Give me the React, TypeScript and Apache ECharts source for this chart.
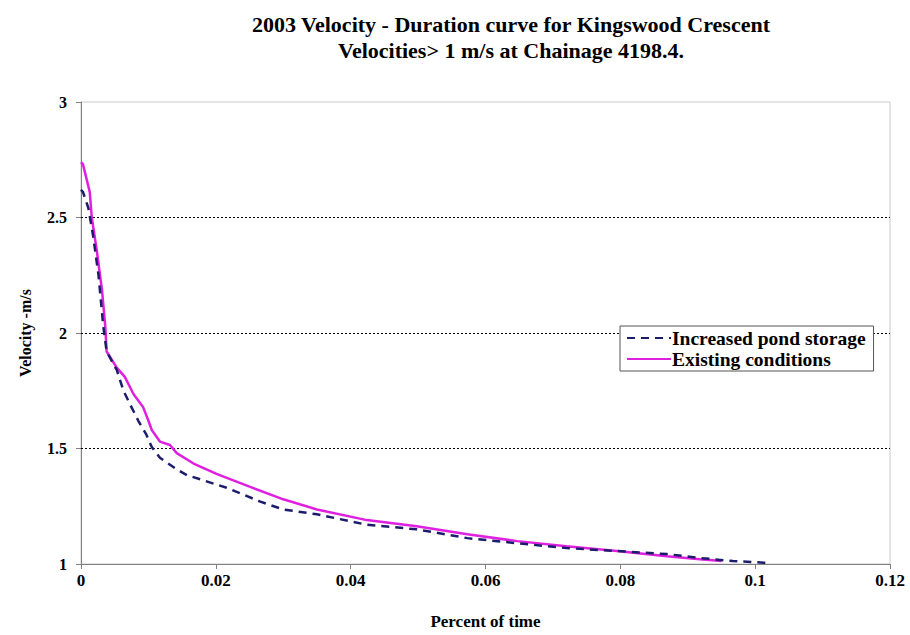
import React, { useEffect, useRef } from "react";
import * as echarts from "echarts";

const titleLines = [
  "2003 Velocity - Duration curve for Kingswood Crescent",
  "Velocities> 1 m/s at Chainage 4198.4.",
];
const xAxisName = "Percent of time";
const yAxisName = "Velocity -m/s";
const seriesNames = ["Increased pond storage", "Existing conditions"];

// Increased pond storage (dashed navy)
const pondX = [0, 0.0003, 0.0011, 0.0018, 0.0026, 0.0033, 0.0038, 0.0053, 0.0063, 0.0073, 0.0085, 0.0097, 0.0105, 0.0117, 0.0142, 0.0157, 0.0216, 0.0266, 0.03, 0.035, 0.0424, 0.0498, 0.0573, 0.0647, 0.072, 0.0795, 0.0869, 0.0918, 0.0967, 0.1022];
const pondY = [2.62, 2.61, 2.54, 2.42, 2.25, 2.03, 1.92, 1.84, 1.75, 1.69, 1.62, 1.56, 1.506, 1.46, 1.41, 1.385, 1.33, 1.27, 1.236, 1.215, 1.17, 1.15, 1.112, 1.09, 1.069, 1.056, 1.043, 1.026, 1.013, 1.004];

// Existing conditions (magenta)
const existX = [0, 0.0003, 0.0013, 0.0016, 0.0023, 0.0031, 0.0036, 0.0038, 0.0053, 0.0065, 0.0078, 0.0092, 0.01, 0.0105, 0.0117, 0.0132, 0.0142, 0.0167, 0.0201, 0.025, 0.03, 0.035, 0.0424, 0.0498, 0.0573, 0.0647, 0.072, 0.0795, 0.0869, 0.0918, 0.095];
const existY = [2.74, 2.73, 2.61, 2.5, 2.365, 2.19, 2.03, 1.92, 1.85, 1.81, 1.735, 1.68, 1.62, 1.58, 1.53, 1.515, 1.48, 1.435, 1.39, 1.335, 1.28, 1.236, 1.19, 1.163, 1.129, 1.099, 1.077, 1.056, 1.034, 1.021, 1.013];

const gridValues = [1.5, 2, 2.5];

const FONT = "'Liberation Serif', 'Times New Roman', serif";

export default function App() {
  const ref = useRef<HTMLDivElement>(null);
  useEffect(() => {
    if (!ref.current) return;
    const chart = echarts.init(ref.current, null, { renderer: "svg" });
    const pondData = pondX.map((x, i) => [x, pondY[i]]);
    const existData = existX.map((x, i) => [x, existY[i]]);
    chart.setOption({
      animation: false,
      backgroundColor: "#fff",
      title: {
        text: titleLines.join("\n"),
        left: 506,
        top: 6,
        textAlign: "center",
        textStyle: {
          fontFamily: FONT,
          fontWeight: "bold",
          fontSize: 22,
          lineHeight: 26,
          color: "#000",
        },
      },
      grid: {
        left: 81,
        right: 20,
        top: 102,
        bottom: 67,
        show: true,
        borderColor: "#c8c8c8",
        borderWidth: 1,
        backgroundColor: "#fff",
      },
      legend: {
        orient: "vertical",
        left: 620,
        top: 326,
        backgroundColor: "#fff",
        borderColor: "#555",
        borderWidth: 1,
        padding: [2, 8, 2, 6],
        itemGap: 1,
        itemWidth: 44,
        itemHeight: 12,
        itemStyle: { opacity: 0 },
        textStyle: {
          fontFamily: FONT,
          fontSize: 19.5,
          fontWeight: "bold",
          color: "#000",
          padding: [0, 0, 0, -4],
        },
        data: seriesNames,
      },
      xAxis: {
        type: "value",
        min: 0,
        max: 0.12,
        interval: 0.02,
        name: xAxisName,
        nameLocation: "middle",
        nameGap: 49,
        nameTextStyle: { fontFamily: FONT, fontWeight: "bold", fontSize: 17, color: "#000" },
        axisLine: { show: true, lineStyle: { color: "#808080", width: 1 } },
        axisTick: { show: true, length: 5, lineStyle: { color: "#808080" } },
        axisLabel: { fontFamily: FONT, fontWeight: "bold", fontSize: 17, color: "#000", margin: 8 },
        splitLine: { show: false },
      },
      yAxis: {
        type: "value",
        min: 1,
        max: 3,
        interval: 0.5,
        name: yAxisName,
        nameLocation: "middle",
        nameRotate: 90,
        nameGap: 48,
        nameTextStyle: { fontFamily: FONT, fontWeight: "bold", fontSize: 16, color: "#000" },
        axisLine: { show: true, lineStyle: { color: "#808080", width: 1 } },
        axisTick: { show: true, length: 5, lineStyle: { color: "#808080" } },
        axisLabel: { fontFamily: FONT, fontWeight: "bold", fontSize: 16, color: "#000", margin: 14 },
        splitLine: { show: false },
      },
      series: [
        {
          name: seriesNames[0],
          type: "line",
          data: pondData,
          symbol: "none",
          lineStyle: { color: "#1c1c6c", width: 2.5, type: [8, 6] },
          itemStyle: { color: "#1c1c6c" },
          z: 3,
          markLine: {
            silent: true,
            symbol: "none",
            label: { show: false },
            lineStyle: { color: "#000", width: 1, type: [2, 2] },
            data: gridValues.map((v) => ({ yAxis: v })),
            z: 1,
          },
        },
        {
          name: seriesNames[1],
          type: "line",
          data: existData,
          symbol: "none",
          lineStyle: { color: "#e020e0", width: 2.5 },
          itemStyle: { color: "#e020e0" },
          z: 2,
        },
      ],
    });
    return () => chart.dispose();
  }, []);
  return (
    <div
      ref={ref}
      style={{ position: "absolute", left: 0, top: 0, width: 910, height: 635 }}
    />
  );
}
